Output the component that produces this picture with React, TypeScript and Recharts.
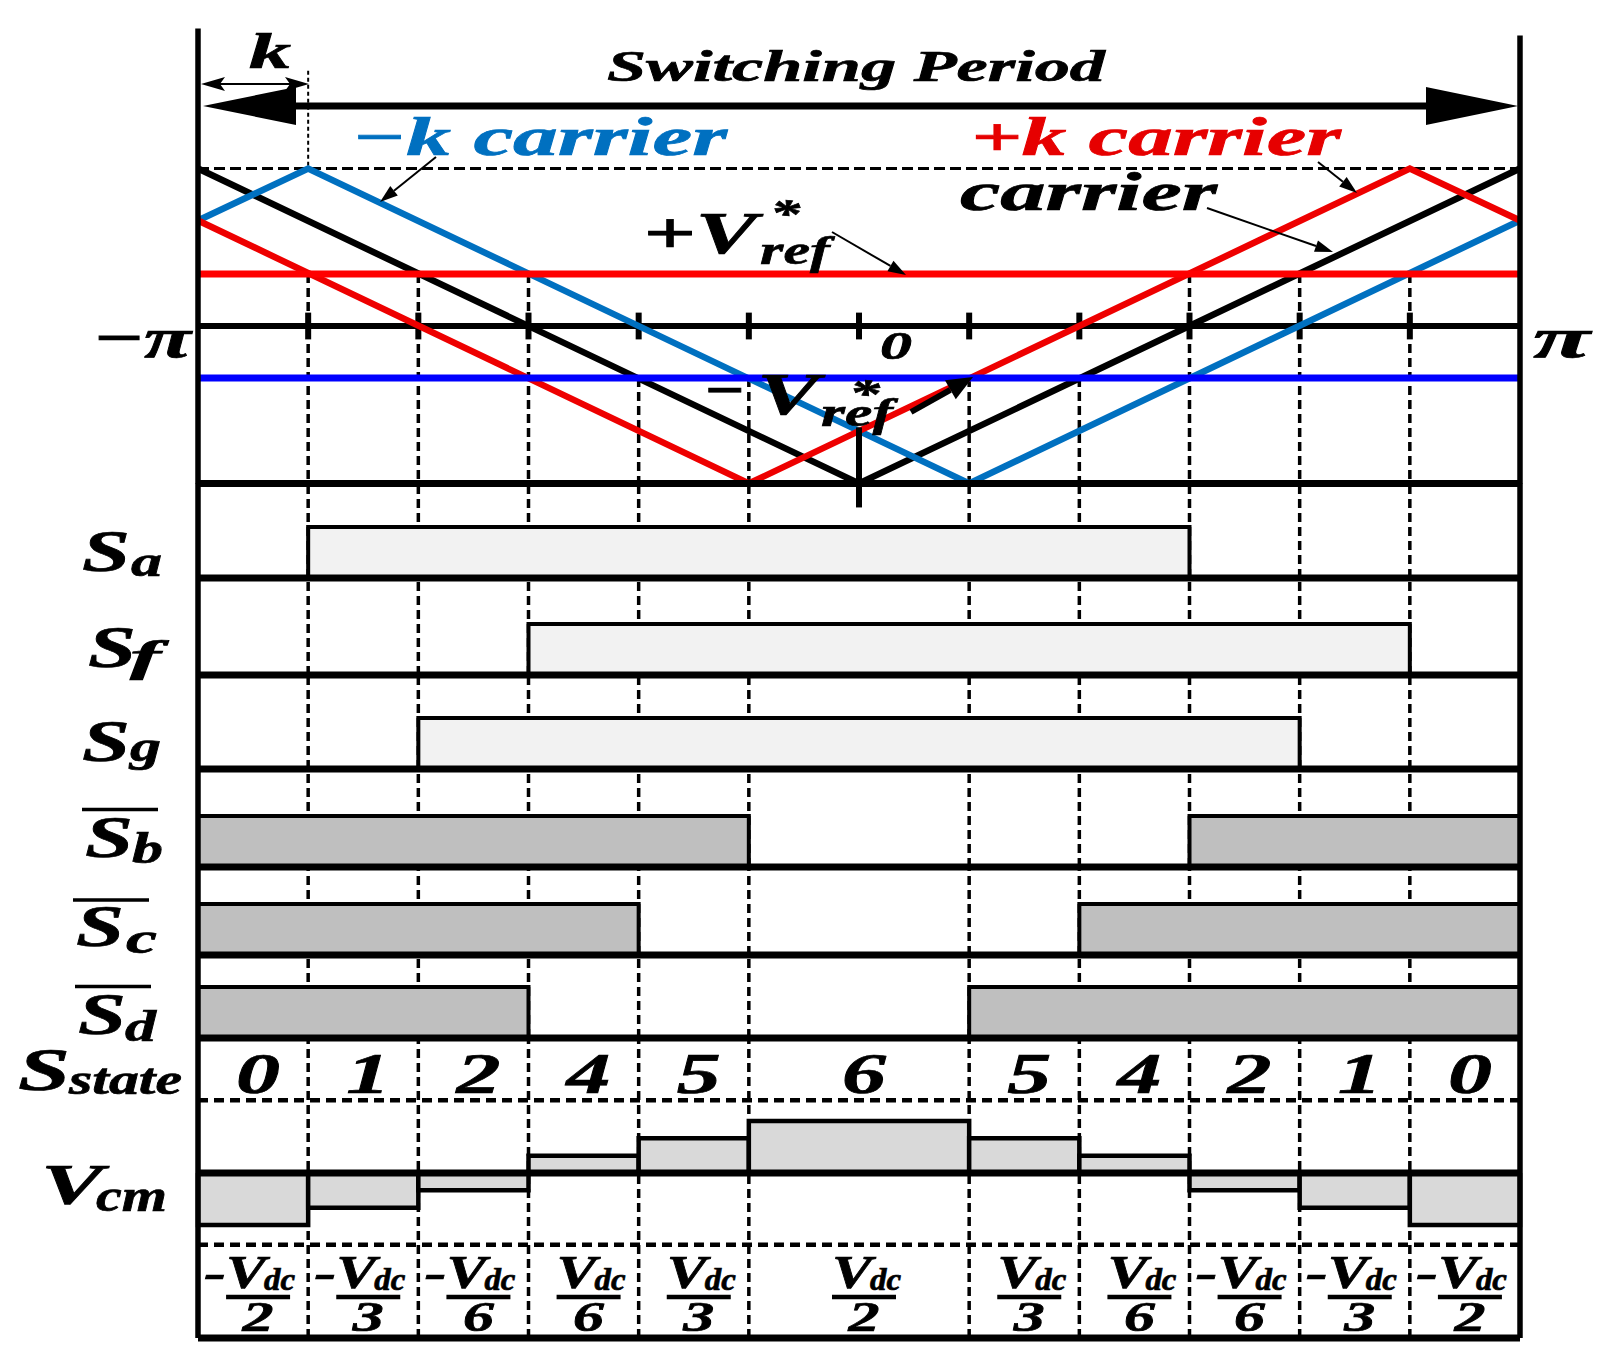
import React from 'react';
import { LineChart, Line, AreaChart, Area, XAxis, YAxis, ReferenceLine } from 'recharts';

const W = 1612;
const H = 1370;
const PLOT_L = 198;
const PLOT_R = 1520;
const PAD = 8;
const FONT = "'Liberation Serif', 'Times New Roman', serif";

// phase axis in steps of k: -6 .. 6 is -π .. π
const PHASE_MIN = -6;
const PHASE_MAX = 6;

// carrier vertices
const CARRIER_X = [-6, 0, 6];
const CARRIER_Y = [1, -1, 1];
const NEG_K_X = [-6, -5, 1, 6];
const NEG_K_Y = [0.67, 1, -1, 0.67];
const POS_K_X = [-6, -1, 5, 6];
const POS_K_Y = [0.67, -1, 1, 0.67];
const VREF_POS = 0.33;
const VREF_NEG = -0.33;

const AXIS_TICKS = [-5, -4, -3, -2, -1, 0, 1, 2, 3, 4, 5];
// switching instants and the reference level each dashed line drops from
const EDGES = [-5, -4, -3, -2, -1, 1, 2, 3, 4, 5];
const EDGE_FROM = [0.33, 0.33, 0.33, -0.33, -0.33, -0.33, -0.33, 0.33, 0.33, 0.33];

// switching-state segments
const SEG_START = [-6, -5, -4, -3, -2, -1, 1, 2, 3, 4, 5];
const SEG_END = [-5, -4, -3, -2, -1, 1, 2, 3, 4, 5, 6];
const STATES = [0, 1, 2, 4, 5, 6, 5, 4, 2, 1, 0];

const SA = [0, 1, 1, 1, 1, 1, 1, 1, 0, 0, 0];
const SF = [0, 0, 0, 1, 1, 1, 1, 1, 1, 1, 0];
const SG = [0, 0, 1, 1, 1, 1, 1, 1, 1, 0, 0];
const SB_BAR = [1, 1, 1, 1, 1, 0, 0, 0, 1, 1, 1];
const SC_BAR = [1, 1, 1, 1, 0, 0, 0, 1, 1, 1, 1];
const SD_BAR = [1, 1, 1, 0, 0, 0, 1, 1, 1, 1, 1];

// common-mode voltage per segment, as sign * Vdc / den
const VCM_SIGN = [-1, -1, -1, 1, 1, 1, 1, 1, -1, -1, -1];
const VCM_DEN = [2, 3, 6, 6, 3, 2, 3, 6, 6, 3, 2];

type Band = { top: number; bottom: number; min: number; max: number };

const TOP_BAND: Band = { top: 10.5, bottom: 514.5, min: -1.2, max: 2 };
const ROW_TOP = [483, 578, 675, 769, 867, 955];
const ROW_BOTTOM = [578, 675, 769, 867, 955, 1038];
const BAR_PX = 51;
const VCM_BAND: Band = { top: 1038, bottom: 1338, min: -165 / 104, max: 135 / 104 };

const px = (t: number) => PLOT_L + ((t - PHASE_MIN) / (PHASE_MAX - PHASE_MIN)) * (PLOT_R - PLOT_L);

const toPoints = (xs: number[], ys: number[]) => xs.map((x, i) => ({ x, y: ys[i] }));
const stepSeries = (vals: number[]) => [
  ...vals.map((v, i) => ({ x: SEG_START[i], y: v })),
  { x: SEG_END[SEG_END.length - 1], y: vals[vals.length - 1] },
];
const rectSeries = (i: number, v: number) => [
  { x: SEG_START[i], y: 0 },
  { x: SEG_START[i], y: v },
  { x: SEG_END[i], y: v },
  { x: SEG_END[i], y: 0 },
];

function frame(b: Band) {
  return {
    style: { position: 'absolute' as const, left: 0, top: b.top - PAD },
    width: W,
    height: b.bottom - b.top + 2 * PAD,
    margin: { top: PAD, bottom: PAD, left: PLOT_L, right: W - PLOT_R },
  };
}

const DASH = { stroke: '#000', strokeWidth: 3.5, strokeDasharray: '9 5' };
const ROW_LINE = 7;
const BORDER = 5.5;

function TopPanel() {
  const b = TOP_BAND;
  const f = frame(b);
  return (
    <div style={f.style}>
      <LineChart width={f.width} height={f.height} margin={f.margin}>
        <XAxis type="number" dataKey="x" domain={[PHASE_MIN, PHASE_MAX]} hide />
        <YAxis type="number" domain={[b.min, b.max]} hide />
        <ReferenceLine y={1} stroke="#000" strokeWidth={3} strokeDasharray="11 5" zIndex={50} />
        {EDGES.map((e, i) => (
          <ReferenceLine key={e} segment={[{ x: e, y: EDGE_FROM[i] }, { x: e, y: -1 }]} {...DASH} zIndex={50} />
        ))}
        <ReferenceLine segment={[{ x: -5, y: 1.62 }, { x: -5, y: 1 }]} stroke="#000" strokeWidth={2} strokeDasharray="4 3" zIndex={50} />
        <ReferenceLine y={0} stroke="#000" strokeWidth={6} zIndex={60} />
        {AXIS_TICKS.map((t) => (
          <ReferenceLine key={t} segment={[{ x: t, y: -0.085 }, { x: t, y: 0.085 }]} stroke="#000" strokeWidth={6} zIndex={60} />
        ))}
        <Line data={toPoints(CARRIER_X, CARRIER_Y)} dataKey="y" stroke="#000" strokeWidth={6.5} dot={false} isAnimationActive={false} />
        <Line data={toPoints(NEG_K_X, NEG_K_Y)} dataKey="y" stroke="#0070c0" strokeWidth={6.5} dot={false} isAnimationActive={false} />
        <Line data={toPoints(POS_K_X, POS_K_Y)} dataKey="y" stroke="#ee0000" strokeWidth={6.5} dot={false} isAnimationActive={false} />
        <ReferenceLine y={VREF_POS} stroke="#ff0000" strokeWidth={7} zIndex={500} />
        <ReferenceLine y={VREF_NEG} stroke="#0000ff" strokeWidth={7} zIndex={500} />
        <ReferenceLine y={-1} stroke="#000" strokeWidth={ROW_LINE} zIndex={500} />
        <ReferenceLine segment={[{ x: -6, y: 1.889 }, { x: -6, y: -1 }]} stroke="#000" strokeWidth={BORDER} zIndex={500} />
        <ReferenceLine segment={[{ x: 6, y: 1.844 }, { x: 6, y: -1 }]} stroke="#000" strokeWidth={BORDER} zIndex={500} />
        <ReferenceLine segment={[{ x: 0, y: -0.644 }, { x: 0, y: -1.152 }]} stroke="#000" strokeWidth={6} zIndex={500} />
      </LineChart>
    </div>
  );
}

function SwitchRow({ row, values, fill }: { row: number; values: number[]; fill: string }) {
  const b: Band = { top: ROW_TOP[row], bottom: ROW_BOTTOM[row], min: 0, max: (ROW_BOTTOM[row] - ROW_TOP[row]) / BAR_PX };
  const f = frame(b);
  return (
    <div style={f.style}>
      <AreaChart width={f.width} height={f.height} margin={f.margin}>
        <XAxis type="number" dataKey="x" domain={[PHASE_MIN, PHASE_MAX]} hide />
        <YAxis type="number" domain={[b.min, b.max]} hide />
        {EDGES.map((e) => (
          <ReferenceLine key={e} x={e} {...DASH} zIndex={50} />
        ))}
        <Area
          data={stepSeries(values)}
          dataKey="y"
          type="stepAfter"
          stroke="#000"
          strokeWidth={4}
          fill={fill}
          fillOpacity={1}
          isAnimationActive={false}
        />
        <ReferenceLine y={0} stroke="#000" strokeWidth={ROW_LINE} zIndex={500} />
        <ReferenceLine x={PHASE_MIN} stroke="#000" strokeWidth={BORDER} zIndex={500} />
        <ReferenceLine x={PHASE_MAX} stroke="#000" strokeWidth={BORDER} zIndex={500} />
      </AreaChart>
    </div>
  );
}

function VcmPanel() {
  const b = VCM_BAND;
  const f = frame(b);
  const vcm = VCM_SIGN.map((s, i) => s / VCM_DEN[i]);
  return (
    <div style={f.style}>
      <AreaChart width={f.width} height={f.height} margin={f.margin}>
        <XAxis type="number" dataKey="x" domain={[PHASE_MIN, PHASE_MAX]} hide />
        <YAxis type="number" domain={[b.min, b.max]} hide />
        {EDGES.map((e) => (
          <ReferenceLine key={e} x={e} {...DASH} zIndex={50} />
        ))}
        <ReferenceLine y={0.7} stroke="#000" strokeWidth={4.5} strokeDasharray="10 6" zIndex={50} />
        <ReferenceLine y={-0.69} stroke="#000" strokeWidth={4.5} strokeDasharray="10 6" zIndex={50} />
        {vcm.map((v, i) => (
          <Area
            key={i}
            data={rectSeries(i, v)}
            dataKey="y"
            type="linear"
            stroke="#000"
            strokeWidth={4.5}
            fill="#d9d9d9"
            fillOpacity={1}
            isAnimationActive={false}
          />
        ))}
        <ReferenceLine y={0} stroke="#000" strokeWidth={ROW_LINE} zIndex={500} />
        <ReferenceLine y={b.min} stroke="#000" strokeWidth={ROW_LINE} zIndex={500} />
        <ReferenceLine x={PHASE_MIN} stroke="#000" strokeWidth={BORDER} zIndex={500} />
        <ReferenceLine x={PHASE_MAX} stroke="#000" strokeWidth={BORDER} zIndex={500} />
      </AreaChart>
    </div>
  );
}

const FIT = { lengthAdjust: 'spacingAndGlyphs' as const };

function Txt({ x, y, w, size, fill = '#000', anchor = 'start', children }: any) {
  return (
    <text x={x} y={y} fontSize={size} fill={fill} stroke={fill} strokeWidth={0.7} textAnchor={anchor} textLength={w} {...FIT}>
      {children}
    </text>
  );
}

// one <text> made of absolutely placed parts
function Multi({ parts, fill = '#000' }: any) {
  return (
    <text fill={fill} stroke={fill} strokeWidth={0.7}>
      {parts.map((p: any, i: number) => (
        <tspan key={i} x={p.x} y={p.y} fontSize={p.size} textLength={p.w} {...FIT}>
          {p.t}
        </tspan>
      ))}
    </text>
  );
}

// "ref" subscript with the "*" sitting over it, one text node stretched sideways
function RefStar({ x, y, starX, starY, w }: any) {
  const size = 40;
  const natural = 46.7; // r + e + f advances at 40px
  const s = w / natural;
  const xs = [0, 15.6, 33.4, (starX - x) / s];
  const ys = [y, y, y, starY];
  return (
    <text
      transform={`translate(${x},0) scale(${s},1)`}
      x={xs.join(' ')}
      y={ys.join(' ')}
      fontSize={size}
      fill="#000"
      stroke="#000"
      strokeWidth={0.6}
    >
      ref*
    </text>
  );
}

function Arrow({ x1, y1, x2, y2, w = 2, head = 18, half = 6 }: any) {
  const a = Math.atan2(y2 - y1, x2 - x1);
  const bx = x2 - head * Math.cos(a);
  const by = y2 - head * Math.sin(a);
  const nx = -Math.sin(a) * half;
  const ny = Math.cos(a) * half;
  return (
    <g>
      <line x1={x1} y1={y1} x2={bx} y2={by} stroke="#000" strokeWidth={w} />
      <polygon points={`${x2},${y2} ${bx + nx},${by + ny} ${bx - nx},${by - ny}`} fill="#000" />
    </g>
  );
}

// left-hand signal labels: S + subscript, optional overline
const LABELS = [
  { sub: 'a', sx: 82, sy: 571, bx: 131, by: 576, bar: 0 },
  { sub: 'f', sx: 88, sy: 667, bx: 130, by: 671, bar: 0 },
  { sub: 'g', sx: 82, sy: 761, bx: 130, by: 761, bar: 0 },
  { sub: 'b', sx: 85, sy: 857, bx: 132, by: 863, bar: 809.5 },
  { sub: 'c', sx: 76, sy: 946, bx: 126, by: 953, bar: 900 },
  { sub: 'd', sx: 78, sy: 1034, bx: 125, by: 1041, bar: 986.5 },
];

function Overlay() {
  return (
    <svg
      width={W}
      height={H}
      style={{ position: 'absolute', left: 0, top: 0, pointerEvents: 'none' }}
      fontFamily={FONT}
      fontWeight="bold"
      fontStyle="italic"
    >
      {/* k marker */}
      <Txt x={249} y={68} w={42} size={50}>k</Txt>
      <line x1={215} y1={84} x2={296} y2={84} stroke="#000" strokeWidth={2} />
      <polygon points="201,84 225,77 220,84 225,91" fill="#000" />
      <polygon points="309,84 285,77 290,84 285,91" fill="#000" />

      {/* switching period arrow */}
      <line x1={290} y1={106} x2={1430} y2={106} stroke="#000" strokeWidth={7} />
      <polygon points="203,106 296,87 296,125" fill="#000" />
      <polygon points="1518,106 1426,87 1426,125" fill="#000" />
      <Txt x={607} y={81} w={498} size={44}>Switching Period</Txt>

      <Txt x={352} y={155} w={375} size={54} fill="#0070c0">−k carrier</Txt>
      <Txt x={971} y={155} w={370} size={54} fill="#e60000">+k carrier</Txt>
      <Txt x={960} y={210} w={257} size={54}>carrier</Txt>
      <Arrow x1={436} y1={157} x2={380} y2={202} />
      <Arrow x1={1318} y1={162} x2={1357} y2={193} />
      <Arrow x1={1207} y1={208} x2={1333} y2={252} />

      <Txt x={643} y={253} w={114} size={60}>+V</Txt>
      <RefStar x={760} y={264} starX={770} starY={227} w={70} />
      <Arrow x1={832} y1={232} x2={906} y2={275} />

      <Multi
        parts={[
          { t: '−', x: 703, y: 410, size: 60, w: 42 },
          { t: 'V', x: 757, y: 414, size: 60, w: 62 },
        ]}
      />
      <RefStar x={821} y={426} starX={849} starY={407} w={72} />
      <Arrow x1={911} y1={412} x2={973} y2={377} w={6} head={26} half={11} />

      <Txt x={92} y={357} w={99} size={58}>−π</Txt>
      <Txt x={1533} y={357} w={57} size={58}>π</Txt>
      <Txt x={880} y={359} w={32} size={40}>0</Txt>

      {LABELS.map((l) => (
        <g key={l.sub}>
          <Multi
            parts={[
              { t: 'S', x: l.sx, y: l.sy, size: 60, w: 48 },
              { t: l.sub, x: l.bx, y: l.by, size: 44, w: 31 },
            ]}
          />
          {l.bar ? <line x1={l.sx - 3} y1={l.bar} x2={l.sx + 73} y2={l.bar} stroke="#000" strokeWidth={3.5} /> : null}
        </g>
      ))}
      <Multi
        parts={[
          { t: 'S', x: 18, y: 1090, size: 62, w: 52 },
          { t: 'state', x: 69, y: 1094, size: 44, w: 113 },
        ]}
      />
      <Multi
        parts={[
          { t: 'V', x: 41, y: 1204, size: 58, w: 62 },
          { t: 'cm', x: 96, y: 1211, size: 46, w: 71 },
        ]}
      />

      {STATES.map((s, i) => (
        <Txt key={i} x={px((SEG_START[i] + SEG_END[i]) / 2) + 5} y={1093} w={44} size={56} anchor="middle">
          {s}
        </Txt>
      ))}

      {VCM_DEN.map((d, i) => {
        const cx = px((SEG_START[i] + SEG_END[i]) / 2) + 5;
        const num = [
          { t: 'V', x: cx - 32, y: 1288, size: 46, w: 40 },
          { t: 'dc', x: cx + 6, y: 1290, size: 31, w: 31 },
        ];
        if (VCM_SIGN[i] < 0) num.unshift({ t: '-', x: cx - 54, y: 1288, size: 46, w: 22 });
        return (
          <g key={i}>
            <Multi parts={num} />
            <line x1={cx - 32} y1={1297} x2={cx + 32} y2={1297} stroke="#000" strokeWidth={4.5} />
            <Txt x={cx} y={1331} w={31} size={42} anchor="middle">{d}</Txt>
          </g>
        );
      })}
    </svg>
  );
}

export default function App() {
  return (
    <div style={{ position: 'absolute', left: 0, top: 0, width: W, height: H, background: '#fff', overflow: 'hidden' }}>
      <TopPanel />
      <SwitchRow row={0} values={SA} fill="#f2f2f2" />
      <SwitchRow row={1} values={SF} fill="#f2f2f2" />
      <SwitchRow row={2} values={SG} fill="#f2f2f2" />
      <SwitchRow row={3} values={SB_BAR} fill="#bfbfbf" />
      <SwitchRow row={4} values={SC_BAR} fill="#bfbfbf" />
      <SwitchRow row={5} values={SD_BAR} fill="#bfbfbf" />
      <VcmPanel />
      <Overlay />
    </div>
  );
}
